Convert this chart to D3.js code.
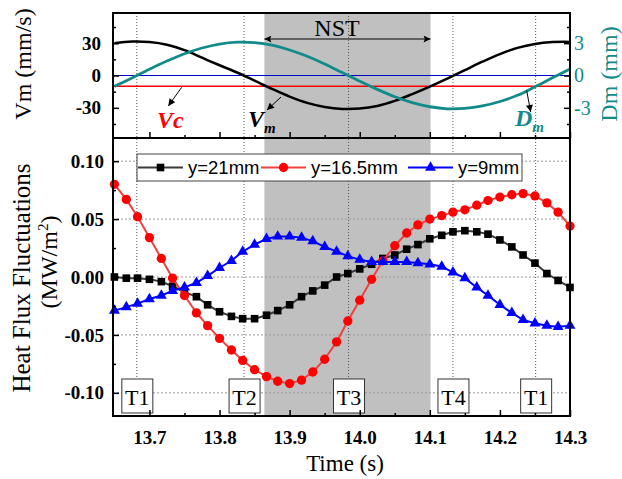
<!DOCTYPE html>
<html>
<head>
<meta charset="utf-8">
<title>Heat flux fluctuations</title>
<script src="https://cdnjs.cloudflare.com/ajax/libs/d3/7.8.5/d3.min.js"></script>
<style>
  body { margin: 0; background-color: #FFF }
  svg { display: block; font-family: "Liberation Serif", "Times New Roman", serif }
</style>
</head>
<body>
<svg width="622" height="479"></svg>
<script>

// top panel: sampled Vm (mm/s) and Dm (mm)
var tTop = [13.650, 13.675, 13.700, 13.725, 13.750, 13.775, 13.800, 13.825, 13.850,
            13.875, 13.900, 13.925, 13.950, 13.975, 14.000, 14.025, 14.050, 14.075,
            14.100, 14.125, 14.150, 14.175, 14.200, 14.225, 14.250, 14.275, 14.300];
var vm = [30.0, 31.5, 31.0, 28.5, 23.5, 16.5, 9.5, 2.8, -4.8, -12.5, -19.6, -25.4, -29.2, -31.0,
          -30.7, -28.3, -23.6, -17.2, -10.3, -2.8, 5.0, 12.8, 19.9, 25.6, 29.3, 31.0, 31.2];
var dm = [-1.01, -0.23, 0.58, 1.34, 2.02, 2.55, 2.92, 3.09, 3.05, 2.81, 2.37, 1.78, 1.07, 0.27,
          -0.53, -1.29, -1.97, -2.52, -2.90, -3.09, -3.06, -2.83, -2.41, -1.84, -1.05, -0.22, 0.60];
var vc = -10;

// bottom panel: heat flux fluctuations (MW/m2)
var tBot = [13.650, 13.667, 13.683, 13.700, 13.717, 13.733, 13.750, 13.767, 13.783, 13.800,
            13.817, 13.833, 13.850, 13.867, 13.883, 13.900, 13.917, 13.933, 13.950, 13.967,
            13.983, 14.000, 14.017, 14.033, 14.050, 14.067, 14.083, 14.100, 14.117, 14.133,
            14.150, 14.167, 14.183, 14.200, 14.217, 14.233, 14.250, 14.267, 14.283, 14.300];
var q21 = [0.000, -0.001, -0.001, -0.002, -0.004, -0.008, -0.013, -0.017, -0.024, -0.030,
           -0.034, -0.036, -0.036, -0.033, -0.029, -0.024, -0.017, -0.012, -0.007, 0.000,
           0.003, 0.007, 0.011, 0.016, 0.019, 0.024, 0.028, 0.033, 0.036, 0.039,
           0.040, 0.039, 0.037, 0.032, 0.026, 0.019, 0.012, 0.003, -0.003, -0.009];
var q165 = [0.080, 0.067, 0.052, 0.034, 0.016, -0.001, -0.016, -0.031, -0.042, -0.053,
            -0.063, -0.072, -0.080, -0.086, -0.090, -0.092, -0.089, -0.082, -0.071, -0.056,
            -0.038, -0.020, -0.002, 0.014, 0.027, 0.038, 0.045, 0.050, 0.053, 0.056,
            0.058, 0.062, 0.066, 0.069, 0.071, 0.072, 0.070, 0.064, 0.056, 0.044];
var q9 = [-0.029, -0.026, -0.023, -0.019, -0.016, -0.012, -0.009, -0.005, 0.001, 0.008,
          0.014, 0.022, 0.028, 0.033, 0.035, 0.035, 0.034, 0.031, 0.026, 0.022,
          0.018, 0.015, 0.013, 0.013, 0.013, 0.013, 0.012, 0.011, 0.009, 0.004,
          -0.001, -0.009, -0.016, -0.024, -0.031, -0.037, -0.040, -0.042, -0.043, -0.042];

var seriesNames = ["y=21mm", "y=16.5mm", "y=9mm"];
var tMarks = [13.682, 13.835, 13.984, 14.133, 14.251];
var tNames = ["T1", "T2", "T3", "T4", "T1"];
var nst = [13.864, 14.101];

var xTicks = [13.7, 13.8, 13.9, 14.0, 14.1, 14.2, 14.3];
var xMinor = [13.75, 13.85, 13.95, 14.05, 14.15, 14.25];
var vmTicks = [-30, 0, 30], vmMinor = [-45, -15, 15, 45];
var dmTicks = [-3, 0, 3], dmMinor = [-4.5, -1.5, 1.5, 4.5];
var qTicks = [-0.10, -0.05, 0.00, 0.05, 0.10], qMinor = [-0.075, -0.025, 0.025, 0.075];

var TEAL = "#118a8a";
var L = 113, R = 570, TOP = 13, MID = 138, BOT = 416;

var svg = d3.select("svg");

var x = d3.scaleLinear().domain([13.648, 14.3]).range([L, R]);
var yV = d3.scaleLinear().domain([-58, 58]).range([MID, TOP]);
var yD = d3.scaleLinear().domain([-5.8, 5.8]).range([MID, TOP]);
var yQ = d3.scaleLinear().domain([-0.12, 0.12]).range([BOT, MID]);

var defs = svg.append("defs");
defs.append("marker").attr("id", "head").attr("viewBox", "0 0 10 10")
  .attr("refX", 10).attr("refY", 5).attr("markerWidth", 9).attr("markerHeight", 7)
  .attr("markerUnits", "userSpaceOnUse").attr("orient", "auto-start-reverse")
  .append("path").attr("d", "M0,0L10,5L0,10z").attr("fill", "#000");
defs.append("marker").attr("id", "bighead").attr("viewBox", "0 0 10 10")
  .attr("refX", 10).attr("refY", 5).attr("markerWidth", 12).attr("markerHeight", 7)
  .attr("markerUnits", "userSpaceOnUse").attr("orient", "auto-start-reverse")
  .append("path").attr("d", "M0,0L10,5L0,10L2,5z").attr("fill", "#000");

// NST shading over both panels
svg.append("rect")
  .attr("x", x(nst[0])).attr("y", TOP)
  .attr("width", x(nst[1]) - x(nst[0])).attr("height", BOT - TOP)
  .attr("fill", "#c0c0c0");

// grid
svg.selectAll(".hgrid").data(qTicks).enter().append("line")
  .attr("x1", L).attr("x2", R)
  .attr("y1", function(d) { return yQ(d) }).attr("y2", function(d) { return yQ(d) })
  .attr("stroke", "#999").attr("stroke-dasharray", "2,2");
svg.selectAll(".vgrid").data(tMarks).enter().append("line")
  .attr("x1", function(d) { return x(d) }).attr("x2", function(d) { return x(d) })
  .attr("y1", TOP).attr("y2", BOT)
  .attr("stroke", "#555").attr("stroke-dasharray", "1,2");

// top panel
svg.append("line").attr("x1", L).attr("x2", R).attr("y1", yV(0)).attr("y2", yV(0))
  .attr("stroke", "#0000cc").attr("stroke-width", 1);
svg.append("line").attr("x1", L).attr("x2", R).attr("y1", yV(vc)).attr("y2", yV(vc))
  .attr("stroke", "#ff0000").attr("stroke-width", 1.5);

var lineV = d3.line().x(function(d, i) { return x(tTop[i]) }).y(function(d) { return yV(d) })
  .curve(d3.curveCatmullRom);
var lineD = d3.line().x(function(d, i) { return x(tTop[i]) }).y(function(d) { return yD(d) })
  .curve(d3.curveCatmullRom);
svg.append("path").attr("d", lineV(vm)).attr("fill", "none").attr("stroke", "#000").attr("stroke-width", 2.5);
svg.append("path").attr("d", lineD(dm)).attr("fill", "none").attr("stroke", TEAL).attr("stroke-width", 2.8);

// NST arrow and label
svg.append("line").attr("x1", x(nst[0])).attr("x2", x(nst[1])).attr("y1", 39).attr("y2", 39)
  .attr("stroke", "#000").attr("stroke-width", 1.2)
  .attr("marker-start", "url(#bighead)").attr("marker-end", "url(#bighead)");
svg.append("text").attr("x", 337).attr("y", 36).attr("text-anchor", "middle")
  .attr("font-size", 24).text("NST");

// annotation arrows
var arrows = [[181.7, 87.3, 168.3, 106], [281, 97, 267, 110], [526.7, 90.7, 530.7, 112]];
svg.selectAll(".arr").data(arrows).enter().append("line")
  .attr("x1", function(d) { return d[0] }).attr("y1", function(d) { return d[1] })
  .attr("x2", function(d) { return d[2] }).attr("y2", function(d) { return d[3] })
  .attr("stroke", "#000").attr("stroke-width", 1).attr("marker-end", "url(#head)");

svg.append("text").attr("x", 157).attr("y", 128).attr("font-size", 24)
  .attr("font-weight", "bold").attr("font-style", "italic").attr("fill", "#ff0000").text("Vc");
var vmLab = svg.append("text").attr("x", 248).attr("y", 127).attr("font-size", 24)
  .attr("font-weight", "bold").attr("font-style", "italic").attr("fill", "#000");
vmLab.append("tspan").text("V");
vmLab.append("tspan").attr("dy", 6).attr("font-size", 15).text("m");
var dmLab = svg.append("text").attr("x", 515).attr("y", 126).attr("font-size", 24)
  .attr("font-weight", "bold").attr("font-style", "italic").attr("fill", TEAL);
dmLab.append("tspan").text("D");
dmLab.append("tspan").attr("dy", 6).attr("font-size", 15).text("m");

// bottom panel series
var series = [
  { vals: q21, line: "#3a3a3a", fill: "#000", sym: d3.symbolSquare, size: 58 },
  { vals: q165, line: "#f04040", fill: "#ff0000", sym: d3.symbolCircle, size: 68 },
  { vals: q9, line: "#0000ff", fill: "#0000ff", sym: d3.symbolTriangle, size: 52 }
];
var lineQ = d3.line().x(function(d, i) { return x(tBot[i]) }).y(function(d) { return yQ(d) });

series.forEach(function(s) {
  svg.append("path").attr("d", lineQ(s.vals)).attr("fill", "none")
    .attr("stroke", s.line).attr("stroke-width", 2);
  svg.append("g").selectAll("path").data(s.vals).enter().append("path")
    .attr("d", d3.symbol().type(s.sym).size(s.size))
    .attr("transform", function(d, i) { return "translate(" + x(tBot[i]) + "," + yQ(d) + ")" })
    .attr("fill", s.fill);
});

// legend
var leg = svg.append("g");
leg.append("rect").attr("x", 137).attr("y", 154).attr("width", 385).attr("height", 27)
  .attr("fill", "#fff").attr("stroke", "#444").attr("stroke-width", 1);
var legX = [138, 261, 408];
series.forEach(function(s, i) {
  leg.append("line").attr("x1", legX[i]).attr("x2", legX[i] + 45)
    .attr("y1", 167.5).attr("y2", 167.5).attr("stroke", s.line).attr("stroke-width", 2);
  leg.append("path").attr("d", d3.symbol().type(s.sym).size(s.size)())
    .attr("transform", "translate(" + (legX[i] + 22.5) + ",167.5)").attr("fill", s.fill);
  leg.append("text").attr("x", legX[i] + 50).attr("y", 174)
    .attr("font-family", "'Liberation Sans', Arial, sans-serif").attr("font-size", 18.5)
    .text(seriesNames[i]);
});

// T boxes
var tb = svg.selectAll(".tb").data(tMarks).enter().append("g");
tb.append("rect").attr("x", function(d) { return x(d) - 15 }).attr("y", 379)
  .attr("width", 31).attr("height", 34).attr("fill", "#fff")
  .attr("stroke", "#333").attr("stroke-width", 1);
tb.append("text").attr("x", function(d) { return x(d) + 0.5 }).attr("y", 405)
  .attr("text-anchor", "middle").attr("font-size", 22)
  .text(function(d, i) { return tNames[i] });

// axes
function clean(g) { g.select(".domain").remove(); g.selectAll(".tick line").attr("stroke-width", 1.5) }

svg.append("g").attr("transform", "translate(" + L + ",0)")
  .call(d3.axisLeft(yV).tickValues(vmTicks).tickSizeInner(-6).tickSizeOuter(0).tickPadding(12)
    .tickFormat(function(d) { return String(d) }))
  .call(clean)
  .selectAll("text").attr("font-size", 19).attr("font-weight", "bold")
  .attr("font-family", "'Liberation Serif', serif");
svg.append("g").attr("transform", "translate(" + L + ",0)")
  .call(d3.axisLeft(yV).tickValues(vmMinor).tickSize(-3).tickFormat("")).call(clean);

svg.append("g").attr("transform", "translate(" + R + ",0)")
  .call(d3.axisRight(yD).tickValues(dmTicks).tickSizeInner(-6).tickSizeOuter(0).tickPadding(4)
    .tickFormat(function(d) { return String(d) }))
  .call(clean)
  .selectAll("text").attr("font-size", 20).attr("fill", TEAL)
  .attr("font-family", "'Liberation Serif', serif");
svg.append("g").attr("transform", "translate(" + R + ",0)")
  .call(d3.axisRight(yD).tickValues(dmMinor).tickSize(-3).tickFormat("")).call(clean);

svg.append("g").attr("transform", "translate(0," + MID + ")")
  .call(d3.axisBottom(x).tickValues(xTicks).tickSize(-6).tickFormat("")).call(clean);
svg.append("g").attr("transform", "translate(0," + MID + ")")
  .call(d3.axisBottom(x).tickValues(xMinor).tickSize(-3).tickFormat("")).call(clean);

svg.append("g").attr("transform", "translate(" + L + ",0)")
  .call(d3.axisLeft(yQ).tickValues(qTicks).tickSizeInner(-6).tickSizeOuter(0).tickPadding(9)
    .tickFormat(function(d) { return d.toFixed(2) }))
  .call(clean)
  .selectAll("text").attr("font-size", 19).attr("font-weight", "bold")
  .attr("font-family", "'Liberation Serif', serif");
svg.append("g").attr("transform", "translate(" + L + ",0)")
  .call(d3.axisLeft(yQ).tickValues(qMinor).tickSize(-3).tickFormat("")).call(clean);

svg.append("g").attr("transform", "translate(0," + BOT + ")")
  .call(d3.axisBottom(x).tickValues(xTicks).tickSizeInner(-6).tickSizeOuter(0).tickPadding(15)
    .tickFormat(function(d) { return d.toFixed(1) }))
  .call(clean)
  .selectAll("text").attr("font-size", 19).attr("font-weight", "bold")
  .attr("font-family", "'Liberation Serif', serif");
svg.append("g").attr("transform", "translate(0," + BOT + ")")
  .call(d3.axisBottom(x).tickValues(xMinor).tickSize(-3).tickFormat("")).call(clean);

// frames
svg.append("rect").attr("x", L).attr("y", TOP).attr("width", R - L).attr("height", MID - TOP)
  .attr("fill", "none").attr("stroke", "#000").attr("stroke-width", 2);
svg.append("rect").attr("x", L).attr("y", MID).attr("width", R - L).attr("height", BOT - MID)
  .attr("fill", "none").attr("stroke", "#000").attr("stroke-width", 2);

// axis titles
svg.append("text").attr("transform", "translate(31,64) rotate(-90)").attr("text-anchor", "middle")
  .attr("font-size", 24).text("Vm (mm/s)");
svg.append("text").attr("transform", "translate(617,74) rotate(-90)").attr("text-anchor", "middle")
  .attr("font-size", 24).attr("fill", TEAL).text("Dm (mm)");
svg.append("text").attr("transform", "translate(30,278) rotate(-90)").attr("text-anchor", "middle")
  .attr("font-size", 25).text("Heat Flux Fluctuations");
var unit = svg.append("text").attr("transform", "translate(57,262) rotate(-90)")
  .attr("text-anchor", "middle").attr("font-size", 24);
unit.append("tspan").text("(MW/m");
unit.append("tspan").attr("dy", -9).attr("font-size", 15).text("2");
unit.append("tspan").attr("dy", 9).text(")");
svg.append("text").attr("x", 345).attr("y", 471).attr("text-anchor", "middle")
  .attr("font-size", 23).text("Time (s)");

</script>
</body>
</html>
